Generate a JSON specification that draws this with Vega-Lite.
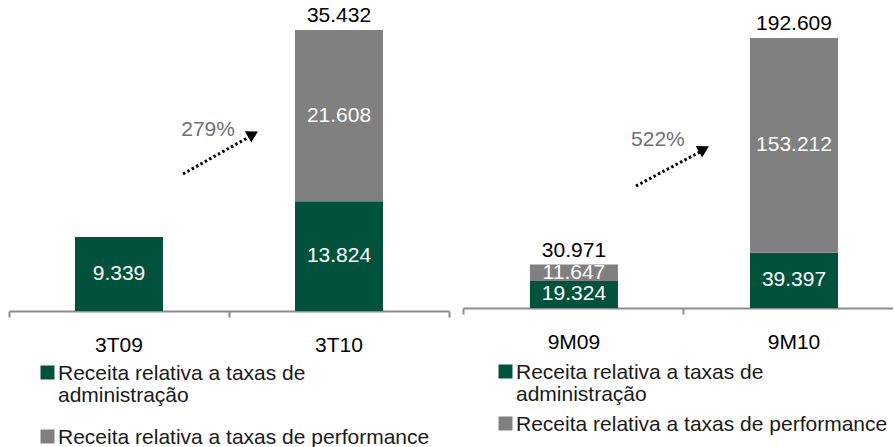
{
  "$schema": "https://vega.github.io/schema/vega-lite/v6.json",
  "padding": {"left": 8, "top": 5, "right": 0, "bottom": 0},
  "bounds": "flush",
  "spacing": 14,
  "resolve": {"scale": {"color": "independent"}, "legend": {"color": "independent"}},
  "config": {
    "view": {"stroke": null},
    "font": "Liberation Sans",
    "locale": {"number": {"decimal": ",", "thousands": ".", "grouping": [3], "currency": ["R$", ""]}},
    "axisX": {
      "domainColor": "#8c8c8c", "domainWidth": 2,
      "tickColor": "#8c8c8c", "tickWidth": 2, "tickSize": 6,
      "labelFontSize": 21, "labelColor": "#000000", "labelPadding": 17, "labelAngle": 0,
      "title": null, "grid": false
    },
    "legend": {
      "orient": "none", "title": null, "padding": 0,
      "symbolType": "square", "symbolSize": 196, "symbolStrokeWidth": 0, "symbolOpacity": 1,
      "labelFontSize": 21, "labelColor": "#1a1a1a", "labelLimit": 600, "labelBaseline": "alphabetic",
      "labelOffset": 0
    }
  },
  "datasets": {
    "q": [
      {"period": "3T09", "series": "Receita relativa a taxas de administração", "value": 9339},
      {"period": "3T10", "series": "Receita relativa a taxas de administração", "value": 13824},
      {"period": "3T10", "series": "Receita relativa a taxas de performance", "value": 21608}
    ],
    "qTot": [{"period": "3T10", "total": 35432}],
    "qArrow": [{"sx": 0.791, "sy": 17280, "ex": 1.091, "ey": 21940, "hx": 1.109, "hy": 22300, "lx": 0.905, "ly": 22800, "label": "279%"}],
    "m": [
      {"period": "9M09", "series": "Receita relativa a taxas de administração", "value": 19324},
      {"period": "9M09", "series": "Receita relativa a taxas de performance", "value": 11647},
      {"period": "9M10", "series": "Receita relativa a taxas de administração", "value": 39397},
      {"period": "9M10", "series": "Receita relativa a taxas de performance", "value": 153212}
    ],
    "mTot": [{"period": "9M09", "total": 30971}, {"period": "9M10", "total": 192609}],
    "mArrow": [{"sx": 0.786, "sy": 87000, "ex": 1.077, "ey": 111300, "hx": 1.095, "hy": 113400, "lx": 0.886, "ly": 119800, "label": "522%"}]
  },
  "hconcat": [
    {
      "width": 440, "height": 305,
      "layer": [
        {
          "layer": [
            {
              "data": {"name": "q"},
              "transform": [{"stack": "value", "groupby": ["period"], "sort": [{"field": "series"}], "as": ["v0", "v1"]}],
              "mark": {"type": "bar"},
              "encoding": {
                "x": {"field": "period", "type": "nominal", "scale": {"domain": ["3T09", "3T10"], "paddingInner": 0.6, "paddingOuter": 0.3}, "axis": {"domainOpacity": 0, "tickOpacity": 0}},
                "y": {"field": "v0", "type": "quantitative", "scale": {"domain": [0, 38460], "nice": false, "zero": true}, "axis": null},
                "y2": {"field": "v1"},
                "color": {
                  "field": "series", "type": "nominal",
                  "scale": {"domain": ["Receita relativa a taxas de administração", "Receita relativa a taxas de performance"], "range": ["#01523c", "#808080"]},
                  "legend": {
                    "legendX": 28, "legendY": 356, "rowPadding": 20,
                    "labelExpr": "datum.label == 'Receita relativa a taxas de administração' ? ['Receita relativa a taxas de', 'administração'] : datum.label",
                    "encode": {"labels": {"update": {"lineHeight": {"value": 22}, "dy": {"value": 7}}}}
                  }
                }
              }
            },
            {
              "data": {"name": "q"},
              "transform": [
                {"stack": "value", "groupby": ["period"], "sort": [{"field": "series"}], "as": ["v0", "v1"]},
                {"fold": ["v0", "v1"], "as": ["edge", "pos"]},
                {"aggregate": [{"op": "mean", "field": "pos", "as": "mid"}, {"op": "max", "field": "value", "as": "val"}], "groupby": ["period", "series"]}
              ],
              "mark": {"type": "text", "color": "#ffffff", "fontSize": 21, "baseline": "middle"},
              "encoding": {
                "x": {"field": "period", "type": "nominal"},
                "y": {"field": "mid", "type": "quantitative"},
                "text": {"field": "val", "type": "quantitative", "format": ",d"}
              }
            },
            {
              "data": {"name": "qTot"},
              "mark": {"type": "text", "color": "#000000", "fontSize": 21, "baseline": "middle", "dy": -14},
              "encoding": {
                "x": {"field": "period", "type": "nominal"},
                "y": {"field": "total", "type": "quantitative"},
                "text": {"field": "total", "type": "quantitative", "format": ",d"}
              }
            }
          ]
        },
        {
          "data": {"name": "qArrow"},
          "layer": [
            {
              "mark": {"type": "rule", "color": "#000000", "strokeWidth": 3, "strokeDash": [2.5, 2.5]},
              "encoding": {
                "x": {"field": "sx", "type": "quantitative", "scale": {"domain": [0, 2], "nice": false},
                      "axis": {"orient": "bottom", "values": [0, 1, 2], "labels": false, "domain": true, "ticks": true}},
                "y": {"field": "sy", "type": "quantitative"},
                "x2": {"field": "ex"},
                "y2": {"field": "ey"}
              }
            },
            {
              "mark": {"type": "point", "shape": "triangle-right", "filled": true, "color": "#000000", "opacity": 1, "size": 170, "angle": 331},
              "encoding": {
                "x": {"field": "hx", "type": "quantitative"},
                "y": {"field": "hy", "type": "quantitative"}
              }
            },
            {
              "mark": {"type": "text", "color": "#707070", "fontSize": 21, "baseline": "middle"},
              "encoding": {
                "x": {"field": "lx", "type": "quantitative"},
                "y": {"field": "ly", "type": "quantitative"},
                "text": {"field": "label"}
              }
            }
          ]
        }
      ],
      "resolve": {"scale": {"x": "independent"}, "axis": {"x": "independent"}}
    },
    {
      "width": 430, "height": 302,
      "layer": [
        {
          "layer": [
            {
              "data": {"name": "m"},
              "transform": [{"stack": "value", "groupby": ["period"], "sort": [{"field": "series"}], "as": ["v0", "v1"]}],
              "mark": {"type": "bar"},
              "encoding": {
                "x": {"field": "period", "type": "nominal", "scale": {"domain": ["9M09", "9M10"], "paddingInner": 0.6, "paddingOuter": 0.277, "align": 0.549}, "axis": {"domainOpacity": 0, "tickOpacity": 0}},
                "y": {"field": "v0", "type": "quantitative", "scale": {"domain": [0, 215400], "nice": false, "zero": true}, "axis": null},
                "y2": {"field": "v1"},
                "color": {
                  "field": "series", "type": "nominal",
                  "scale": {"domain": ["Receita relativa a taxas de administração", "Receita relativa a taxas de performance"], "range": ["#01523c", "#808080"]},
                  "legend": {
                    "legendX": 32, "legendY": 355, "rowPadding": 8,
                    "labelExpr": "datum.label == 'Receita relativa a taxas de administração' ? ['Receita relativa a taxas de', 'administração'] : datum.label",
                    "encode": {"labels": {"update": {"lineHeight": {"value": 22}, "dy": {"value": 7}}}}
                  }
                }
              }
            },
            {
              "data": {"name": "m"},
              "transform": [
                {"stack": "value", "groupby": ["period"], "sort": [{"field": "series"}], "as": ["v0", "v1"]},
                {"fold": ["v0", "v1"], "as": ["edge", "pos"]},
                {"aggregate": [{"op": "mean", "field": "pos", "as": "mid"}, {"op": "max", "field": "value", "as": "val"}], "groupby": ["period", "series"]}
              ],
              "mark": {"type": "text", "color": "#ffffff", "fontSize": 21, "baseline": "middle"},
              "encoding": {
                "x": {"field": "period", "type": "nominal"},
                "y": {"field": "mid", "type": "quantitative"},
                "text": {"field": "val", "type": "quantitative", "format": ",d"}
              }
            },
            {
              "data": {"name": "mTot"},
              "mark": {"type": "text", "color": "#000000", "fontSize": 21, "baseline": "middle", "dy": -14},
              "encoding": {
                "x": {"field": "period", "type": "nominal"},
                "y": {"field": "total", "type": "quantitative"},
                "text": {"field": "total", "type": "quantitative", "format": ",d"}
              }
            }
          ]
        },
        {
          "data": {"name": "mArrow"},
          "layer": [
            {
              "mark": {"type": "rule", "color": "#000000", "strokeWidth": 3, "strokeDash": [2.5, 2.5]},
              "encoding": {
                "x": {"field": "sx", "type": "quantitative", "scale": {"domain": [0, 1.9545], "nice": false},
                      "axis": {"orient": "bottom", "values": [0, 1], "labels": false, "domain": true, "ticks": true}},
                "y": {"field": "sy", "type": "quantitative"},
                "x2": {"field": "ex"},
                "y2": {"field": "ey"}
              }
            },
            {
              "mark": {"type": "point", "shape": "triangle-right", "filled": true, "color": "#000000", "opacity": 1, "size": 170, "angle": 331},
              "encoding": {
                "x": {"field": "hx", "type": "quantitative"},
                "y": {"field": "hy", "type": "quantitative"}
              }
            },
            {
              "mark": {"type": "text", "color": "#707070", "fontSize": 21, "baseline": "middle"},
              "encoding": {
                "x": {"field": "lx", "type": "quantitative"},
                "y": {"field": "ly", "type": "quantitative"},
                "text": {"field": "label"}
              }
            }
          ]
        }
      ],
      "resolve": {"scale": {"x": "independent"}, "axis": {"x": "independent"}}
    }
  ]
}
